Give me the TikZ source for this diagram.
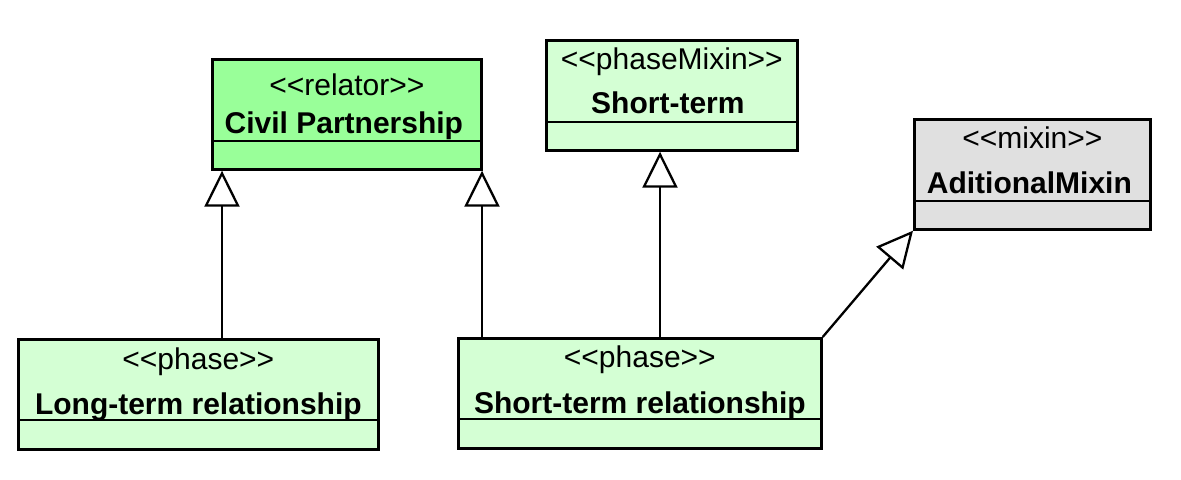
\documentclass[tikz,border=0pt]{standalone}
\usepackage{fontspec}
\setmainfont{Liberation Sans}
\usetikzlibrary{arrows.meta,calc}
\definecolor{relgreen}{HTML}{99FF99}
\definecolor{phgreen}{HTML}{D4FFD4}
\definecolor{mixgray}{HTML}{E0E0E0}
\newcommand{\stereo}[1]{<\kern0pt<#1>\kern0pt>}
\begin{document}
\begin{tikzpicture}[x=0.5pt,y=-0.5pt,font=\fontsize{15}{18}\selectfont,
  cls/.style={draw=black,line width=1.35pt,inner sep=0pt,anchor=north west,minimum height=55pt},
  divline/.style={draw=black,line width=1.35pt},
  txt/.style={anchor=base,inner sep=0pt},
  gen/.style={draw=black,line width=1.15pt,-{Triangle[length=18pt,width=17.5pt,fill=white]}}]
\useasboundingbox (0,0) rectangle (1181,480);
% class boxes
\node[cls,fill=relgreen,minimum width=134.5pt] (cp) at (211,58) {};
\node[cls,fill=phgreen,minimum width=125.5pt] (st) at (545,39) {};
\node[cls,fill=mixgray,minimum width=118pt] (am) at (913,118) {};
\node[cls,fill=phgreen,minimum width=180pt] (ltr) at (17,338) {};
\node[cls,fill=phgreen,minimum width=181.5pt] (str) at (457,337) {};
% dividers
\draw[divline] ($(cp.north west)+(0,83)$) -- ($(cp.north east)+(0,83)$);
\draw[divline] ($(st.north west)+(0,83)$) -- ($(st.north east)+(0,83)$);
\draw[divline] ($(am.north west)+(0,83)$) -- ($(am.north east)+(0,83)$);
\draw[divline] ($(ltr.north west)+(0,82)$) -- ($(ltr.north east)+(0,82)$);
\draw[divline] ($(str.north west)+(0,82)$) -- ($(str.north east)+(0,82)$);
% texts
\node[txt] (cp-s) at ($(cp.north)+(0,38)$) {\stereo{relator}};
\node[txt] (cp-n) at ($(cp.north)+(-3,76)$) {\bfseries Civil Partnership};
\node[txt] (st-s) at ($(st.north)+(0,31)$) {\stereo{phaseMixin}};
\node[txt] (st-n) at ($(st.north)+(-4,75)$) {\bfseries Short-term};
\node[txt] (am-s) at ($(am.north)+(0,31)$) {\stereo{mixin}};
\node[txt] (am-n) at ($(am.north)+(-3,76)$) {\bfseries AditionalMixin};
\node[txt] (ltr-s) at ($(ltr.north)+(0,31)$) {\stereo{phase}};
\node[txt] (ltr-n) at ($(ltr.north)+(0,76)$) {\bfseries Long-term relationship};
\node[txt] (str-s) at ($(str.north)+(0,30)$) {\stereo{phase}};
\node[txt] (str-n) at ($(str.north)+(0,76)$) {\bfseries Short-term relationship};
% generalizations
\draw[gen] ([xshift=102.5pt]ltr.north west) -- ([xshift=102.5pt]ltr.north west |- cp.south);
\draw[gen] ([xshift=12.5pt]str.north west) -- ([xshift=12.5pt]str.north west |- cp.south);
\draw[gen] ([xshift=101.5pt]str.north west) -- ([xshift=101.5pt]str.north west |- st.south);
\draw[gen] (str.north east) -- (am.south west);
\end{tikzpicture}
\end{document}
